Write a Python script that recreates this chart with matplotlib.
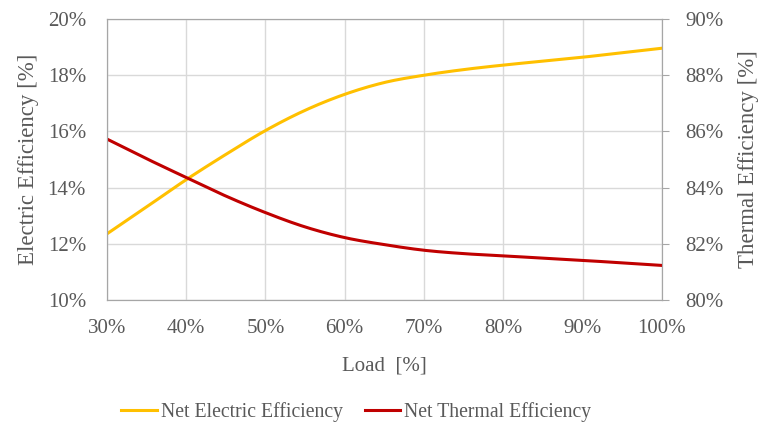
import numpy as np
import matplotlib
matplotlib.use("Agg")
from matplotlib import pyplot as plt
from matplotlib.ticker import PercentFormatter

# 負荷率 [%]
load = [30, 35, 40, 45, 50, 55, 60, 65, 70, 75, 80, 85, 90, 95, 100]
# 発電効率 [%]
electric = [12.35, 13.31, 14.28, 15.18, 16.03, 16.75, 17.32, 17.74, 18.0,
            18.2, 18.36, 18.5, 18.64, 18.8, 18.96]
# 熱効率 [%]
thermal = [85.73, 85.03, 84.36, 83.70, 83.11, 82.60, 82.22, 81.97, 81.77,
           81.65, 81.57, 81.49, 81.41, 81.32, 81.23]

x_ticks = [30, 40, 50, 60, 70, 80, 90, 100]
left_ticks = [10, 12, 14, 16, 18, 20]
right_ticks = [80, 82, 84, 86, 88, 90]


def smooth(xs, ys, n=20):
    # Excel風の平滑線（Catmull-Rom）
    p = np.column_stack([xs, ys]).astype(float)
    p = np.vstack([p[0], p, p[-1]])
    out = []
    t = np.linspace(0, 1, n, endpoint=False)[:, None]
    for i in range(1, len(p) - 2):
        p0, p1, p2, p3 = p[i - 1], p[i], p[i + 1], p[i + 2]
        seg = 0.5 * ((2 * p1) + (-p0 + p2) * t
                     + (2 * p0 - 5 * p1 + 4 * p2 - p3) * t ** 2
                     + (-p0 + 3 * p1 - 3 * p2 + p3) * t ** 3)
        out.append(seg)
    out.append(p[-2][None, :])
    out = np.vstack(out)
    return out[:, 0], out[:, 1]


def main():
    plt.rcParams["font.family"] = ["Liberation Serif", "DejaVu Serif"]
    text_c = "#595959"
    fs = 15

    fig = plt.figure(figsize=(7.63, 4.26), dpi=100)
    ax = fig.add_axes([0.140, 0.2958, 0.7276, 0.6596])
    ax2 = ax.twinx()

    ex, ey = smooth(load, electric)
    tx, ty = smooth(load, thermal)
    l1, = ax.plot(ex, ey, color="#FFC000", lw=2.2, label="Net Electric Efficiency")
    l2, = ax2.plot(tx, ty, color="#C00000", lw=2.2, label="Net Thermal Efficiency")

    ax.set_xlim(30, 100)
    ax.set_ylim(10, 20)
    ax2.set_ylim(80, 90)
    ax.set_xticks(x_ticks)
    ax.set_yticks(left_ticks)
    ax2.set_yticks(right_ticks)
    for a in (ax, ax2):
        a.yaxis.set_major_formatter(PercentFormatter(decimals=0))
        a.tick_params(labelsize=fs, labelcolor=text_c, length=0)
        for s in a.spines.values():
            s.set_color("#a6a6a6")
    ax.xaxis.set_major_formatter(PercentFormatter(decimals=0))
    ax.tick_params(axis="x", pad=14)
    ax.tick_params(axis="y", pad=15)
    ax2.tick_params(axis="y", length=5, color="#a6a6a6", pad=12)

    ax.grid(True, color="#d9d9d9", lw=1)
    ax.set_axisbelow(True)

    ax.set_xlabel("Load  [%]", fontsize=fs, color=text_c, labelpad=13)
    ax.set_ylabel("Electric Efficiency [%]", fontsize=16.5, color=text_c, labelpad=6)
    ax2.set_ylabel("Thermal Efficiency [%]", fontsize=16.5, color=text_c, labelpad=10)

    leg = fig.legend(handles=[l1, l2], loc="center", bbox_to_anchor=(0.467, 0.033),
                     ncol=2, frameon=False, fontsize=14.2, handlelength=1.8,
                     handletextpad=0.2, columnspacing=1.1)
    for t in leg.get_texts():
        t.set_color(text_c)

    fig.savefig("out.png", dpi=100)


if __name__ == "__main__":
    main()
